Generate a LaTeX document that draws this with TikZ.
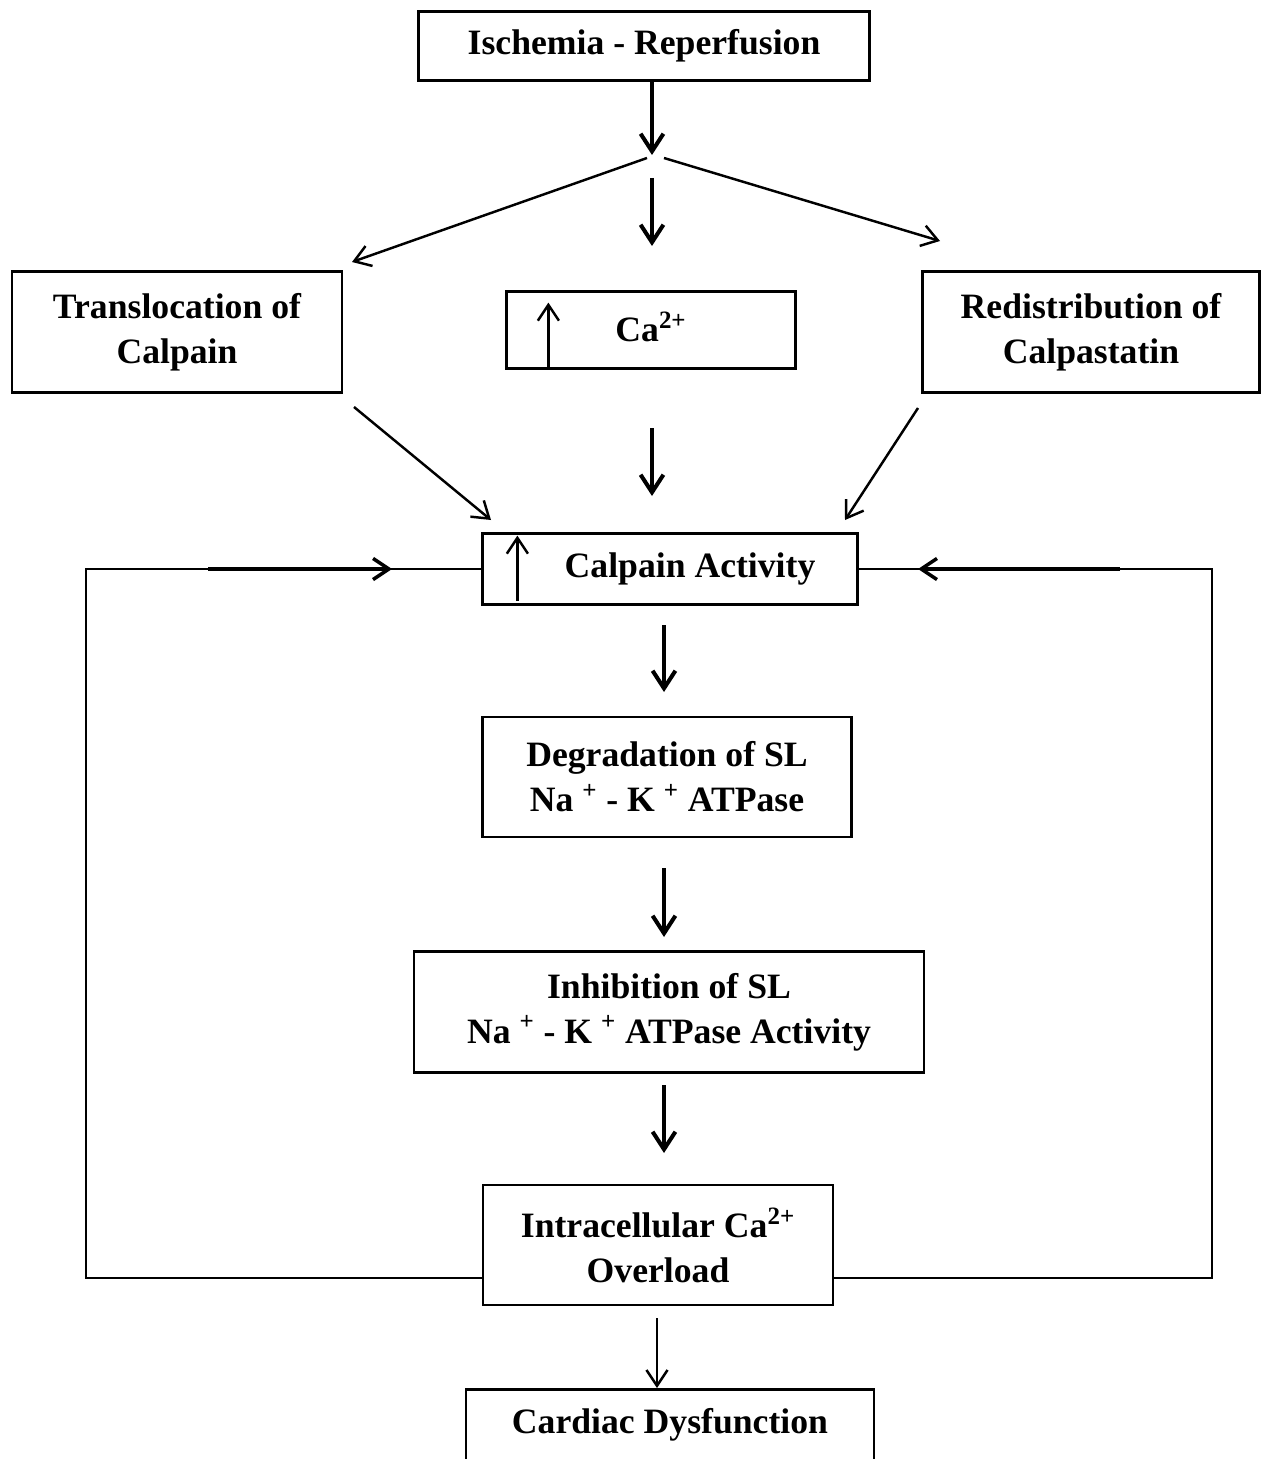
\documentclass[tikz,border=0pt]{standalone}
\usepackage{fontspec}
\setmainfont{Liberation Serif}
\usetikzlibrary{arrows.meta}
\tikzset{
  box/.style={draw, line width=1.3pt, align=center, inner sep=0pt,
    font=\fontsize{20.3}{25.5}\selectfont\bfseries},
  bigarrow/.style={line width=2.3pt, -{Straight Barb[length=10pt,width=13pt]}},
  thinarrow/.style={line width=1.4pt, -{Straight Barb[length=9pt,width=12pt]}},
  loopline/.style={line width=1.5pt},
}
\begin{document}
\begin{tikzpicture}[x=0.02cm,y=-0.02cm]
    \useasboundingbox (0,0) rectangle (1263,1459);
    % Boxes
    \node[box, minimum width=9.02cm, minimum height=1.38cm] (isch) at (644,46) {Ischemia - Reperfusion};
    \node[box, minimum width=6.6cm, minimum height=2.42cm] (trans) at (177,332) {Translocation of\\Calpain};
    \node[box, minimum width=5.78cm, minimum height=1.54cm] (ca) at (651,330) {\raisebox{4pt}{Ca\textsuperscript{2+}}};
    \node[box, minimum width=6.74cm, minimum height=2.42cm] (redist) at (1091,332) {Redistribution of\\Calpastatin};
    \node[box, minimum width=7.5cm, minimum height=1.42cm] (calp) at (670,569) {\hspace*{0.8cm}Calpain Activity};
    \node[box, minimum width=7.38cm, minimum height=2.4cm] (degr) at (667,777) {Degradation of SL\\Na \textsuperscript{+} - K \textsuperscript{+} ATPase};
    \node[box, minimum width=10.2cm, minimum height=2.42cm] (inhib) at (669,1012) {Inhibition of SL\\Na \textsuperscript{+} - K \textsuperscript{+} ATPase Activity};
    \node[box, minimum width=7cm, minimum height=2.4cm] (intra) at (658,1245) {Intracellular Ca\textsuperscript{2+}\\Overload};
    \node[box, draw=none, minimum width=8.12cm, minimum height=1.38cm] (card) at (670,1425) {Cardiac Dysfunction};
    \draw[loopline] (card.north west |- 0,1459) -- (card.north west) -- (card.north east) -- (card.north east |- 0,1459);
    % Up arrows inside boxes
    \draw[thinarrow] (ca.south west) ++(43,0) -- ++(0,-67);
    \draw[thinarrow] (calp.south west) ++(36,-5) -- ++(0,-65);
    % Split below Ischemia - Reperfusion
    \coordinate (split) at (652,155);
    \coordinate (toleft) at (352,262);
    \coordinate (toright) at (940,241);
    \coordinate (tomid) at (652,246);
    \draw[bigarrow] (isch.south -| split) -- (split);
    \draw[thinarrow] (647,158) -- (toleft);
    \draw[thinarrow] (664,158) -- (toright);
    \draw[bigarrow] (652,178) -- (tomid);
    % Into Calpain Activity
    \coordinate (fromtrans) at (354,407);
    \coordinate (fromredist) at (918,408);
    \draw[thinarrow] (fromtrans) -- (491,520);
    \draw[thinarrow] (fromredist) -- (845,520);
    \draw[bigarrow] (652,428) -- (652,496);
    % Main chain
    \draw[bigarrow] (664,625) -- (664,692);
    \draw[bigarrow] (664,868) -- (664,937);
    \draw[bigarrow] (664,1085) -- (664,1153);
    \draw[thinarrow] (657,1318) -- (657,1388);
    % Feedback loops
    \coordinate (lmid) at (392,569);
    \coordinate (rmid) at (918,569);
    \draw[loopline] (intra.west |- 0,1278) -| (86,569) -- (calp.west);
    \draw[thinarrow, line width=2pt] (208,569) -- (lmid);
    \draw[loopline] (intra.east |- 0,1278) -| (1212,569) -- (calp.east);
    \draw[thinarrow, line width=2pt] (1120,569) -- (rmid);
\end{tikzpicture}
\end{document}
